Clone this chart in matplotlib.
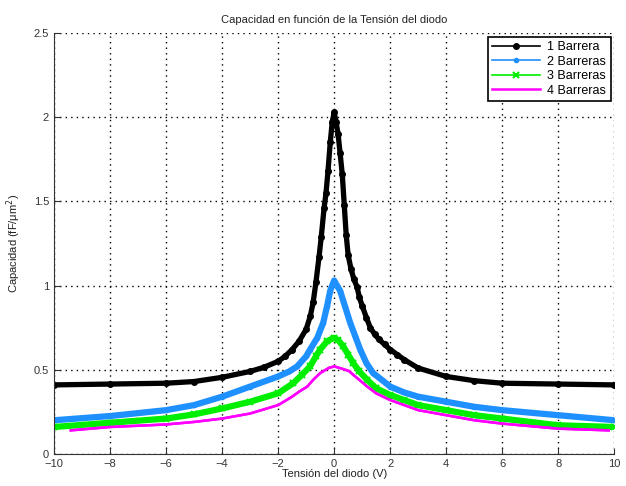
import numpy as np
import matplotlib.pyplot as plt

plt.rcParams['font.family'] = ['Liberation Sans', 'DejaVu Sans']

# 1 Barrera
x1 = [-10, -8, -6, -5, -4, -3, -2.5, -2, -1.75, -1.5, -1.25, -1, -0.85, -0.75, -0.65, -0.54, -0.46, -0.36, -0.29,
      -0.22, -0.14, -0.07, 0,
      0.07, 0.14, 0.21, 0.29, 0.36, 0.43, 0.5, 0.6, 0.7, 0.82, 0.9, 1.0, 1.15, 1.29, 1.45, 1.6, 1.8, 2, 2.25, 2.5,
      3, 4, 5, 6, 8, 10]
y1 = [0.41, 0.415, 0.42, 0.43, 0.455, 0.49, 0.515, 0.55, 0.58, 0.62, 0.67, 0.74, 0.82, 0.90, 1.02, 1.17, 1.29, 1.46,
      1.55, 1.68, 1.85, 1.97, 2.03,
      1.97, 1.90, 1.79, 1.66, 1.48, 1.30, 1.18, 1.10, 1.04, 0.99, 0.93, 0.88, 0.81, 0.75, 0.71, 0.68, 0.65, 0.62,
      0.59, 0.56, 0.51, 0.46, 0.435, 0.42, 0.415, 0.41]

# 2 Barreras
x2 = [-10, -8, -6, -5, -4, -3, -2, -1.6, -1.32, -1.0, -0.86, -0.6, -0.39, -0.25, -0.14, 0, 0.1, 0.21, 0.4, 0.57,
      0.75, 0.93, 1.15, 1.39, 1.7, 2, 2.5, 3, 4, 5, 6, 8, 10]
y2 = [0.20, 0.225, 0.26, 0.29, 0.34, 0.40, 0.46, 0.49, 0.52, 0.58, 0.62, 0.69, 0.78, 0.88, 0.97, 1.03, 1.00, 0.97,
      0.87, 0.78, 0.70, 0.62, 0.54, 0.48, 0.44, 0.40, 0.365, 0.34, 0.31, 0.28, 0.26, 0.23, 0.20]

# 3 Barreras
x3 = [-10, -8, -6, -5, -4, -3, -2, -1.46, -1.15, -0.86, -0.65, -0.5, -0.25, 0, 0.15, 0.32, 0.5, 0.68, 0.9, 1.18,
      1.5, 2, 2.5, 3, 4, 5, 6, 8, 10]
y3 = [0.16, 0.185, 0.21, 0.235, 0.27, 0.31, 0.36, 0.42, 0.47, 0.52, 0.58, 0.62, 0.67, 0.69, 0.675, 0.64, 0.59, 0.54,
      0.49, 0.44, 0.39, 0.35, 0.32, 0.29, 0.26, 0.23, 0.21, 0.17, 0.16]

# 4 Barreras
x4 = [-9.4, -8, -6, -5, -4, -3, -2, -1.5, -1.25, -0.96, -0.75, -0.5, -0.2, 0, 0.2, 0.4, 0.55, 0.68, 0.9, 1.18,
      1.5, 2, 2.5, 3, 4, 5, 6, 8, 9.8]
y4 = [0.14, 0.16, 0.175, 0.19, 0.21, 0.24, 0.29, 0.34, 0.37, 0.40, 0.44, 0.48, 0.51, 0.52, 0.51, 0.50, 0.49, 0.47,
      0.44, 0.40, 0.36, 0.32, 0.29, 0.26, 0.23, 0.20, 0.18, 0.15, 0.14]

fig = plt.figure(figsize=(6.26, 4.86), dpi=100)
ax = fig.add_axes([0.0863, 0.066, 0.895, 0.866])

# thick bands (dense markers in the original) + markers on top
ax.plot(x1, y1, color='black', lw=3.8)
ax.plot(x2, y2, color='#1e90ff', lw=4.5)
ax.plot(x3, y3, color='#00ee00', lw=4.5)
ax.plot(x4, y4, color='magenta', lw=1.8)
h1, = ax.plot(x1, y1, color='black', lw=1.2, marker='o', ms=4, label='1 Barrera')
h2, = ax.plot(x2, y2, color='#1e90ff', lw=1.2, marker='o', ms=3, label='2 Barreras')
h3, = ax.plot(x3, y3, color='#00ee00', lw=1.2, marker='x', ms=4, mew=1.5, label='3 Barreras')
h4, = ax.plot(x4, y4, color='magenta', lw=1.8, label='4 Barreras')

ax.set_xlim(-10, 10)
ax.set_ylim(0, 2.5)
ax.set_xticks(np.arange(-10, 11, 2))
ax.set_yticks([0, 0.5, 1, 1.5, 2, 2.5])
ax.set_yticklabels(['0', '0.5', '1', '1.5', '2', '2.5'])
ax.grid(True, color='black', linestyle=(0, (1, 3)), lw=1)
ax.tick_params(direction='in', labelsize=8, colors='#333333', length=4)
ax.spines['top'].set_visible(False)
ax.spines['right'].set_visible(False)
ax.spines['left'].set_color('#333333')
ax.spines['bottom'].set_color('#333333')

ax.set_title('Capacidad en función de la Tensión del diodo', fontsize=8, color='#222222', pad=7)
ax.set_xlabel('Tensión del diodo (V)', fontsize=8, color='#222222', labelpad=0)
ax.set_ylabel('Capacidad (fF/μm$^2$)', fontsize=8, color='#222222', labelpad=8)

leg = ax.legend(handles=[h1, h2, h3, h4], loc='upper right', fontsize=9, fancybox=False,
                handlelength=3.8, handletextpad=0.6, borderaxespad=0.3, labelspacing=0.2, borderpad=0.35)
leg.get_frame().set_edgecolor('black')
leg.get_frame().set_linewidth(1.2)
leg.get_frame().set_alpha(1)

fig.savefig('out.png', dpi=100)
